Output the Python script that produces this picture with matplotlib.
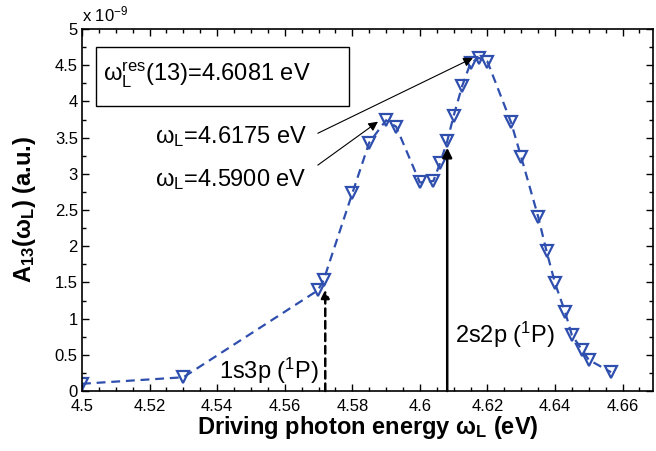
import matplotlib
matplotlib.use("Agg")
import matplotlib.pyplot as plt
from matplotlib.patches import Rectangle
from matplotlib.ticker import MultipleLocator

plt.rcParams['font.family'] = ['Liberation Sans', 'DejaVu Sans']
plt.rcParams['mathtext.fontset'] = 'custom'
plt.rcParams['mathtext.rm'] = 'Liberation Sans'
plt.rcParams['mathtext.it'] = 'Liberation Sans:italic'
plt.rcParams['mathtext.bf'] = 'Liberation Sans:bold'

# driving photon energy (eV) and A_13 in units of 1e-9
energy = [4.5, 4.53, 4.5698, 4.5715, 4.58, 4.585, 4.59, 4.593, 4.6, 4.604,
          4.606, 4.6081, 4.61, 4.6125, 4.615, 4.6175, 4.62, 4.627, 4.63,
          4.635, 4.6375, 4.64, 4.643, 4.645, 4.648, 4.65, 4.6566]
amp = [0.10, 0.19, 1.39, 1.53, 2.73, 3.43, 3.74, 3.65, 2.88, 2.90,
       3.15, 3.45, 3.80, 4.21, 4.53, 4.60, 4.55, 3.71, 3.23,
       2.41, 1.93, 1.49, 1.09, 0.77, 0.57, 0.43, 0.26]
scale_exp = -9

res_1s3p = 4.572
res_2s2p = 4.6081

blue = '#2f4fae'

fig = plt.figure(figsize=(6.56, 4.51), dpi=100)
ax = fig.add_axes([0.125, 0.133, 0.8704, 0.8027])

ax.plot(energy, amp, linestyle=(0, (4, 2.6)), color=blue, lw=1.6,
        marker='v', ms=9, mfc='none', mec=blue, mew=1.6)

ax.set_xlim(4.5, 4.669)
ax.set_ylim(0, 5)
ax.xaxis.set_minor_locator(MultipleLocator(0.005))
ax.yaxis.set_minor_locator(MultipleLocator(0.25))
ax.set_xticks([4.5, 4.52, 4.54, 4.56, 4.58, 4.6, 4.62, 4.64, 4.66])
ax.set_xticklabels(['4.5', '4.52', '4.54', '4.56', '4.58', '4.6', '4.62', '4.64', '4.66'])
ax.set_yticks([0, 0.5, 1, 1.5, 2, 2.5, 3, 3.5, 4, 4.5, 5])
ax.set_yticklabels(['0', '0.5', '1', '1.5', '2', '2.5', '3', '3.5', '4', '4.5', '5'])
ax.tick_params(which='both', direction='in', top=True, right=True, labelsize=12, width=1)
ax.tick_params(which='major', length=5)
ax.tick_params(which='minor', length=3)
ax.tick_params(axis='x', which='major', pad=6)
ax.tick_params(axis='y', which='major', pad=3)
for s in ax.spines.values():
    s.set_linewidth(1.2)

ax.text(0.0, 1.012, r'x 10$^{%d}$' % scale_exp, transform=ax.transAxes,
        fontsize=12, ha='left', va='bottom')

ax.set_xlabel(r'Driving photon energy $\mathbf{\omega_L}$ (eV)', fontsize=17,
              fontweight='bold', labelpad=0)
ax.set_ylabel(r'A$_{\mathbf{13}}$($\mathbf{\omega_L}$) (a.u.)', fontsize=17,
              fontweight='bold')
ax.yaxis.set_label_coords(-0.077, 0.5)

# resonance arrows
ax.annotate('', xy=(res_1s3p, 1.40), xytext=(res_1s3p, 0),
            arrowprops=dict(arrowstyle='-|>', color='black', lw=1.8,
                            linestyle=(0, (3, 2)), mutation_scale=12,
                            shrinkA=0, shrinkB=0))
ax.annotate('', xy=(res_2s2p, 3.36), xytext=(res_2s2p, 0),
            arrowprops=dict(arrowstyle='-|>', color='black', lw=1.8,
                            mutation_scale=14, shrinkA=0, shrinkB=0))
ax.text(4.5405, 0.17, r'1s3p ($^\mathrm{1}$P)', fontsize=17, ha='left', va='baseline')
ax.text(4.6104, 0.66, r'2s2p ($^\mathrm{1}$P)', fontsize=17, ha='left', va='baseline')

# peak labels
ax.text(4.5216, 3.43, r'$\mathrm{\omega_L}$=4.6175 eV', fontsize=17, ha='left', va='baseline')
ax.text(4.5216, 2.83, r'$\mathrm{\omega_L}$=4.5900 eV', fontsize=17, ha='left', va='baseline')
ax.annotate('', xy=(4.6157, 4.60), xytext=(4.5698, 3.56),
            arrowprops=dict(arrowstyle='-|>', color='black', lw=0.8,
                            mutation_scale=14, shrinkA=0, shrinkB=0))
ax.annotate('', xy=(4.5876, 3.72), xytext=(4.5698, 3.12),
            arrowprops=dict(arrowstyle='-|>', color='black', lw=0.8,
                            mutation_scale=14, shrinkA=0, shrinkB=0))

ax.add_patch(Rectangle((4.5041, 3.94), 0.0749, 0.81, fc='white', ec='black', lw=1, zorder=3))
ax.text(4.5062, 4.27, r'$\mathrm{\omega_L^{res}}$(13)=4.6081 eV', fontsize=17,
        ha='left', va='baseline', zorder=4)

fig.savefig('out.png', dpi=100)
